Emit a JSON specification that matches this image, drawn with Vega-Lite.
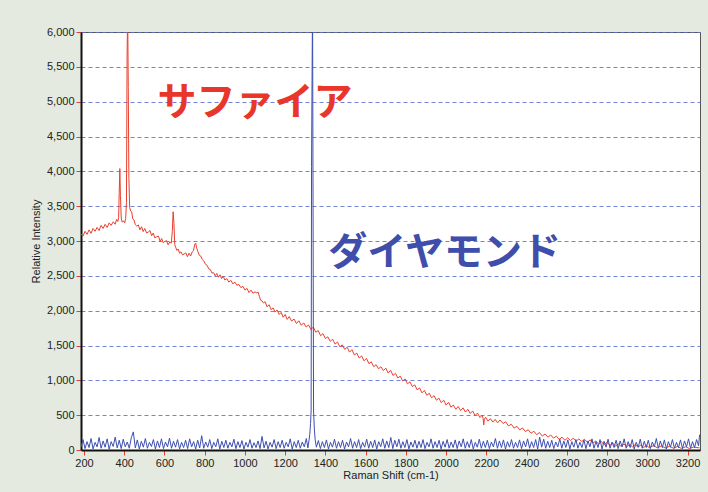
{
  "$schema": "https://vega.github.io/schema/vega-lite/v6.json",
  "width": 619,
  "height": 418,
  "autosize": "none",
  "padding": {"left": 81, "top": 32, "right": 8, "bottom": 42},
  "background": "#e4eae0",
  "config": {
    "view": {"fill": "white", "stroke": "#555555", "strokeWidth": 1},
    "axis": {"labelFont": "Liberation Sans", "labelFontSize": 11, "labelColor": "#222222", "titleFont": "Liberation Sans", "titleFontSize": 11, "titleFontWeight": "normal", "titleColor": "#222222", "tickColor": "#e8402f", "tickSize": 5, "tickWidth": 1, "domainColor": "#111111", "domainWidth": 2}
  },
  "datasets": {
    "red": [
      {"x":185,"y":3100},{"x":195,"y":3070},{"x":205,"y":3140},{"x":215,"y":3095},{"x":225,"y":3160},{"x":235,"y":3110},{"x":245,"y":3180},{"x":255,"y":3140},{"x":265,"y":3195},{"x":275,"y":3150},{"x":285,"y":3225},{"x":295,"y":3180},{"x":305,"y":3240},{"x":315,"y":3195},{"x":325,"y":3260},{"x":335,"y":3225},{"x":345,"y":3275},{"x":355,"y":3240},{"x":362,"y":3310},{"x":368,"y":3280},{"x":372,"y":3335},{"x":375,"y":3700},{"x":378,"y":4040},{"x":381,"y":3650},{"x":385,"y":3330},{"x":390,"y":3270},{"x":396,"y":3290},{"x":402,"y":3260},{"x":407,"y":3320},{"x":411,"y":3550},{"x":414,"y":5650},{"x":417,"y":6300},{"x":420,"y":5200},{"x":423,"y":3900},{"x":427,"y":3480},{"x":432,"y":3430},{"x":437,"y":3420},{"x":442,"y":3320},{"x":448,"y":3305},{"x":455,"y":3235},{"x":462,"y":3215},{"x":470,"y":3230},{"x":478,"y":3160},{"x":486,"y":3205},{"x":494,"y":3135},{"x":502,"y":3180},{"x":511,"y":3115},{"x":520,"y":3130},{"x":528,"y":3150},{"x":536,"y":3075},{"x":544,"y":3115},{"x":552,"y":3045},{"x":561,"y":3060},{"x":570,"y":3070},{"x":578,"y":2995},{"x":586,"y":3035},{"x":594,"y":2975},{"x":602,"y":2995},{"x":610,"y":3005},{"x":618,"y":2945},{"x":626,"y":2985},{"x":634,"y":2970},{"x":639,"y":3150},{"x":643,"y":3420},{"x":647,"y":3250},{"x":651,"y":2950},{"x":656,"y":2905},{"x":662,"y":2865},{"x":668,"y":2885},{"x":675,"y":2825},{"x":682,"y":2845},{"x":690,"y":2800},{"x":698,"y":2815},{"x":706,"y":2830},{"x":714,"y":2775},{"x":722,"y":2825},{"x":730,"y":2785},{"x":738,"y":2845},{"x":744,"y":2860},{"x":750,"y":2950},{"x":755,"y":2970},{"x":760,"y":2900},{"x":766,"y":2850},{"x":773,"y":2795},{"x":780,"y":2785},{"x":788,"y":2735},{"x":796,"y":2710},{"x":804,"y":2665},{"x":812,"y":2650},{"x":820,"y":2600},{"x":828,"y":2590},{"x":836,"y":2540},{"x":844,"y":2545},{"x":852,"y":2500},{"x":860,"y":2535},{"x":868,"y":2480},{"x":876,"y":2515},{"x":884,"y":2460},{"x":892,"y":2495},{"x":900,"y":2440},{"x":910,"y":2460},{"x":920,"y":2410},{"x":930,"y":2435},{"x":940,"y":2385},{"x":950,"y":2410},{"x":960,"y":2365},{"x":970,"y":2375},{"x":980,"y":2330},{"x":990,"y":2350},{"x":1000,"y":2295},{"x":1010,"y":2320},{"x":1020,"y":2260},{"x":1030,"y":2295},{"x":1040,"y":2250},{"x":1050,"y":2270},{"x":1058,"y":2255},{"x":1066,"y":2265},{"x":1072,"y":2200},{"x":1078,"y":2150},{"x":1085,"y":2140},{"x":1092,"y":2110},{"x":1100,"y":2130},{"x":1110,"y":2055},{"x":1120,"y":2085},{"x":1130,"y":2015},{"x":1140,"y":2040},{"x":1150,"y":1980},{"x":1160,"y":2010},{"x":1170,"y":1945},{"x":1180,"y":1975},{"x":1190,"y":1905},{"x":1200,"y":1945},{"x":1210,"y":1875},{"x":1220,"y":1915},{"x":1232,"y":1850},{"x":1244,"y":1880},{"x":1256,"y":1815},{"x":1268,"y":1855},{"x":1280,"y":1790},{"x":1292,"y":1825},{"x":1304,"y":1765},{"x":1316,"y":1795},{"x":1328,"y":1730},{"x":1340,"y":1765},{"x":1352,"y":1690},{"x":1364,"y":1715},{"x":1376,"y":1640},{"x":1388,"y":1670},{"x":1400,"y":1600},{"x":1412,"y":1625},{"x":1424,"y":1560},{"x":1436,"y":1590},{"x":1448,"y":1520},{"x":1460,"y":1550},{"x":1472,"y":1480},{"x":1484,"y":1510},{"x":1496,"y":1445},{"x":1508,"y":1475},{"x":1520,"y":1405},{"x":1532,"y":1440},{"x":1544,"y":1365},{"x":1556,"y":1390},{"x":1568,"y":1320},{"x":1580,"y":1350},{"x":1592,"y":1280},{"x":1604,"y":1315},{"x":1616,"y":1240},{"x":1628,"y":1265},{"x":1640,"y":1195},{"x":1652,"y":1225},{"x":1664,"y":1165},{"x":1676,"y":1195},{"x":1688,"y":1140},{"x":1700,"y":1175},{"x":1712,"y":1105},{"x":1724,"y":1145},{"x":1736,"y":1070},{"x":1748,"y":1100},{"x":1760,"y":1035},{"x":1772,"y":1060},{"x":1784,"y":990},{"x":1796,"y":1020},{"x":1808,"y":950},{"x":1820,"y":980},{"x":1832,"y":910},{"x":1844,"y":935},{"x":1856,"y":865},{"x":1868,"y":890},{"x":1880,"y":820},{"x":1892,"y":855},{"x":1904,"y":785},{"x":1916,"y":815},{"x":1928,"y":750},{"x":1940,"y":780},{"x":1952,"y":715},{"x":1964,"y":745},{"x":1976,"y":680},{"x":1988,"y":715},{"x":2000,"y":645},{"x":2012,"y":685},{"x":2024,"y":615},{"x":2036,"y":645},{"x":2048,"y":585},{"x":2060,"y":625},{"x":2072,"y":565},{"x":2084,"y":605},{"x":2096,"y":545},{"x":2108,"y":585},{"x":2120,"y":525},{"x":2132,"y":560},{"x":2144,"y":495},{"x":2156,"y":530},{"x":2168,"y":465},{"x":2178,"y":495},{"x":2184,"y":455},{"x":2187,"y":360},{"x":2190,"y":440},{"x":2196,"y":470},{"x":2208,"y":415},{"x":2220,"y":450},{"x":2232,"y":400},{"x":2244,"y":440},{"x":2256,"y":390},{"x":2268,"y":430},{"x":2283,"y":380},{"x":2296,"y":405},{"x":2310,"y":345},{"x":2324,"y":370},{"x":2338,"y":315},{"x":2352,"y":340},{"x":2366,"y":290},{"x":2380,"y":315},{"x":2394,"y":265},{"x":2408,"y":290},{"x":2422,"y":240},{"x":2436,"y":270},{"x":2450,"y":220},{"x":2464,"y":250},{"x":2478,"y":200},{"x":2492,"y":230},{"x":2506,"y":185},{"x":2520,"y":215},{"x":2534,"y":170},{"x":2548,"y":200},{"x":2562,"y":150},{"x":2576,"y":185},{"x":2590,"y":140},{"x":2604,"y":175},{"x":2618,"y":135},{"x":2632,"y":170},{"x":2646,"y":125},{"x":2660,"y":160},{"x":2674,"y":120},{"x":2688,"y":155},{"x":2702,"y":110},{"x":2716,"y":145},{"x":2730,"y":100},{"x":2744,"y":130},{"x":2758,"y":85},{"x":2772,"y":120},{"x":2786,"y":75},{"x":2800,"y":110},{"x":2814,"y":65},{"x":2828,"y":100},{"x":2842,"y":55},{"x":2856,"y":90},{"x":2870,"y":50},{"x":2884,"y":85},{"x":2898,"y":48},{"x":2912,"y":82},{"x":2926,"y":45},{"x":2940,"y":78},{"x":2954,"y":40},{"x":2968,"y":72},{"x":2982,"y":36},{"x":2996,"y":66},{"x":3010,"y":34},{"x":3030,"y":62},{"x":3050,"y":32},{"x":3070,"y":58},{"x":3090,"y":28},{"x":3110,"y":54},{"x":3130,"y":25},{"x":3150,"y":50},{"x":3170,"y":22},{"x":3190,"y":46},{"x":3210,"y":20},{"x":3230,"y":42},{"x":3260,"y":30}
    ],
    "blue": [
      {"x":185,"y":40},{"x":195,"y":150},{"x":205,"y":20},{"x":215,"y":120},{"x":225,"y":35},{"x":235,"y":165},{"x":245,"y":15},{"x":255,"y":110},{"x":265,"y":45},{"x":275,"y":180},{"x":285,"y":25},{"x":295,"y":130},{"x":305,"y":40},{"x":315,"y":160},{"x":325,"y":10},{"x":335,"y":120},{"x":345,"y":50},{"x":355,"y":185},{"x":365,"y":30},{"x":375,"y":140},{"x":385,"y":20},{"x":395,"y":155},{"x":405,"y":45},{"x":415,"y":115},{"x":425,"y":25},{"x":435,"y":175},{"x":445,"y":260},{"x":455,"y":30},{"x":465,"y":145},{"x":475,"y":15},{"x":485,"y":125},{"x":495,"y":40},{"x":505,"y":165},{"x":515,"y":25},{"x":525,"y":110},{"x":535,"y":50},{"x":545,"y":150},{"x":555,"y":15},{"x":565,"y":130},{"x":575,"y":35},{"x":585,"y":160},{"x":595,"y":20},{"x":605,"y":115},{"x":615,"y":45},{"x":625,"y":170},{"x":635,"y":25},{"x":645,"y":125},{"x":655,"y":40},{"x":665,"y":150},{"x":675,"y":15},{"x":685,"y":110},{"x":695,"y":35},{"x":705,"y":140},{"x":715,"y":20},{"x":725,"y":160},{"x":735,"y":45},{"x":745,"y":120},{"x":755,"y":15},{"x":765,"y":140},{"x":775,"y":30},{"x":785,"y":205},{"x":795,"y":25},{"x":805,"y":115},{"x":815,"y":40},{"x":825,"y":150},{"x":835,"y":20},{"x":845,"y":110},{"x":855,"y":45},{"x":865,"y":160},{"x":875,"y":15},{"x":885,"y":125},{"x":895,"y":35},{"x":905,"y":140},{"x":915,"y":25},{"x":925,"y":110},{"x":935,"y":45},{"x":945,"y":155},{"x":955,"y":20},{"x":965,"y":120},{"x":975,"y":35},{"x":985,"y":135},{"x":995,"y":15},{"x":1005,"y":110},{"x":1015,"y":40},{"x":1025,"y":150},{"x":1035,"y":25},{"x":1045,"y":105},{"x":1055,"y":35},{"x":1065,"y":130},{"x":1075,"y":20},{"x":1085,"y":195},{"x":1095,"y":30},{"x":1105,"y":125},{"x":1115,"y":15},{"x":1125,"y":110},{"x":1135,"y":40},{"x":1145,"y":150},{"x":1155,"y":20},{"x":1165,"y":120},{"x":1175,"y":35},{"x":1185,"y":140},{"x":1195,"y":25},{"x":1205,"y":110},{"x":1215,"y":45},{"x":1225,"y":160},{"x":1235,"y":15},{"x":1245,"y":120},{"x":1255,"y":35},{"x":1265,"y":140},{"x":1275,"y":25},{"x":1285,"y":115},{"x":1295,"y":45},{"x":1305,"y":165},{"x":1313,"y":30},{"x":1318,"y":130},{"x":1322,"y":220},{"x":1326,"y":380},{"x":1329,"y":560},{"x":1331,"y":4070},{"x":1336,"y":6500},{"x":1341,"y":560},{"x":1345,"y":300},{"x":1349,"y":150},{"x":1355,"y":40},{"x":1365,"y":135},{"x":1375,"y":20},{"x":1385,"y":120},{"x":1395,"y":35},{"x":1405,"y":145},{"x":1415,"y":15},{"x":1425,"y":110},{"x":1435,"y":40},{"x":1445,"y":155},{"x":1455,"y":25},{"x":1465,"y":120},{"x":1475,"y":35},{"x":1485,"y":140},{"x":1495,"y":15},{"x":1505,"y":115},{"x":1515,"y":45},{"x":1525,"y":165},{"x":1535,"y":25},{"x":1545,"y":120},{"x":1555,"y":35},{"x":1565,"y":150},{"x":1575,"y":20},{"x":1585,"y":110},{"x":1595,"y":40},{"x":1605,"y":155},{"x":1615,"y":25},{"x":1625,"y":125},{"x":1635,"y":35},{"x":1645,"y":145},{"x":1655,"y":15},{"x":1665,"y":120},{"x":1675,"y":45},{"x":1685,"y":160},{"x":1695,"y":25},{"x":1705,"y":130},{"x":1715,"y":35},{"x":1725,"y":180},{"x":1735,"y":20},{"x":1745,"y":140},{"x":1755,"y":45},{"x":1765,"y":155},{"x":1775,"y":25},{"x":1785,"y":120},{"x":1795,"y":35},{"x":1805,"y":150},{"x":1815,"y":15},{"x":1825,"y":115},{"x":1835,"y":40},{"x":1845,"y":140},{"x":1855,"y":25},{"x":1865,"y":125},{"x":1875,"y":35},{"x":1885,"y":150},{"x":1895,"y":20},{"x":1905,"y":110},{"x":1915,"y":45},{"x":1925,"y":160},{"x":1935,"y":25},{"x":1945,"y":120},{"x":1955,"y":35},{"x":1965,"y":140},{"x":1975,"y":15},{"x":1985,"y":125},{"x":1995,"y":40},{"x":2005,"y":150},{"x":2015,"y":25},{"x":2025,"y":115},{"x":2035,"y":35},{"x":2045,"y":145},{"x":2055,"y":20},{"x":2065,"y":130},{"x":2075,"y":45},{"x":2085,"y":160},{"x":2095,"y":25},{"x":2105,"y":120},{"x":2115,"y":35},{"x":2125,"y":150},{"x":2135,"y":15},{"x":2145,"y":110},{"x":2155,"y":40},{"x":2165,"y":155},{"x":2175,"y":25},{"x":2185,"y":125},{"x":2195,"y":35},{"x":2205,"y":140},{"x":2215,"y":20},{"x":2225,"y":115},{"x":2235,"y":45},{"x":2245,"y":165},{"x":2255,"y":25},{"x":2265,"y":130},{"x":2275,"y":35},{"x":2285,"y":145},{"x":2295,"y":15},{"x":2305,"y":120},{"x":2315,"y":40},{"x":2325,"y":150},{"x":2335,"y":25},{"x":2345,"y":110},{"x":2355,"y":35},{"x":2365,"y":145},{"x":2375,"y":20},{"x":2385,"y":130},{"x":2395,"y":45},{"x":2405,"y":160},{"x":2415,"y":25},{"x":2425,"y":120},{"x":2435,"y":35},{"x":2445,"y":150},{"x":2455,"y":15},{"x":2465,"y":185},{"x":2475,"y":40},{"x":2485,"y":155},{"x":2495,"y":25},{"x":2505,"y":125},{"x":2515,"y":35},{"x":2525,"y":140},{"x":2535,"y":20},{"x":2545,"y":115},{"x":2555,"y":45},{"x":2565,"y":160},{"x":2575,"y":25},{"x":2585,"y":130},{"x":2595,"y":35},{"x":2605,"y":145},{"x":2615,"y":15},{"x":2625,"y":120},{"x":2635,"y":40},{"x":2645,"y":150},{"x":2655,"y":25},{"x":2665,"y":110},{"x":2675,"y":35},{"x":2685,"y":145},{"x":2695,"y":20},{"x":2705,"y":130},{"x":2715,"y":45},{"x":2725,"y":160},{"x":2735,"y":25},{"x":2745,"y":120},{"x":2755,"y":35},{"x":2765,"y":150},{"x":2775,"y":15},{"x":2785,"y":125},{"x":2795,"y":40},{"x":2805,"y":155},{"x":2815,"y":25},{"x":2825,"y":115},{"x":2835,"y":35},{"x":2845,"y":140},{"x":2855,"y":20},{"x":2865,"y":130},{"x":2875,"y":45},{"x":2885,"y":160},{"x":2895,"y":25},{"x":2905,"y":120},{"x":2915,"y":35},{"x":2925,"y":150},{"x":2935,"y":15},{"x":2945,"y":110},{"x":2955,"y":40},{"x":2965,"y":155},{"x":2975,"y":25},{"x":2985,"y":125},{"x":2995,"y":35},{"x":3005,"y":140},{"x":3015,"y":20},{"x":3025,"y":115},{"x":3035,"y":45},{"x":3045,"y":165},{"x":3055,"y":25},{"x":3065,"y":130},{"x":3075,"y":35},{"x":3085,"y":145},{"x":3095,"y":15},{"x":3105,"y":120},{"x":3115,"y":40},{"x":3125,"y":150},{"x":3135,"y":25},{"x":3145,"y":110},{"x":3155,"y":35},{"x":3165,"y":145},{"x":3175,"y":20},{"x":3185,"y":130},{"x":3195,"y":45},{"x":3205,"y":160},{"x":3215,"y":25},{"x":3225,"y":120},{"x":3235,"y":35},{"x":3245,"y":150},{"x":3255,"y":60},{"x":3260,"y":220}
    ],
    "labels": [
      {"x":1050,"y":4980,"t":"サファイア","c":"r"},
      {"x":1993,"y":2834,"t":"ダイヤモンド","c":"b"}
    ]
  },
  "encoding": {
    "x": {"field": "x", "type": "quantitative", "scale": {"domain": [185, 3262], "nice": false, "zero": false},
      "axis": {"values": [200,400,600,800,1000,1200,1400,1600,1800,2000,2200,2400,2600,2800,3000,3200], "format": "d", "grid": false, "title": "Raman Shift (cm-1)", "labelPadding": 2, "titlePadding": 1}},
    "y": {"field": "y", "type": "quantitative", "scale": {"domain": [0, 6000], "nice": false},
      "axis": {"values": [0,500,1000,1500,2000,2500,3000,3500,4000,4500,5000,5500,6000], "format": ",.0f", "grid": true, "gridColor": "#5a6ed0", "gridDash": [4, 3], "gridOpacity": 0.85, "title": "Relative Intensity", "labelPadding": 2, "titlePadding": 5}}
  },
  "layer": [
    {"data": {"name": "red"}, "mark": {"type": "line", "color": "#e8402f", "strokeWidth": 1, "clip": true}},
    {"data": {"name": "blue"}, "mark": {"type": "line", "color": "#3d4fb0", "strokeWidth": 1, "clip": true}},
    {"data": {"name": "labels"}, "mark": {"type": "text", "font": "Noto Sans CJK JP", "fontSize": 39, "fontWeight": "bold", "align": "center", "baseline": "middle"},
      "encoding": {"text": {"field": "t"}, "color": {"field": "c", "type": "nominal", "scale": {"domain": ["r", "b"], "range": ["#e8362b", "#3f4dab"]}, "legend": null}}}
  ]
}
